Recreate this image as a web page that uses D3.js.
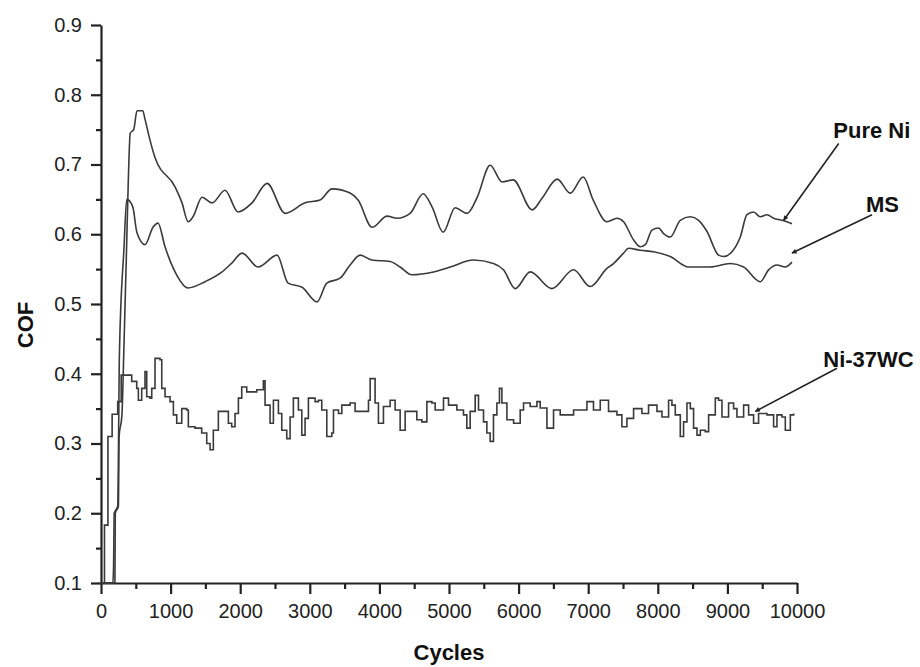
<!DOCTYPE html>
<html>
<head>
<meta charset="utf-8">
<script src="https://cdn.jsdelivr.net/npm/d3@7"></script>
<style>
  body { margin: 0; background: #fff; }
  svg { display: block; font-family: "Liberation Sans", Arial, sans-serif; }
  .axis path, .axis line { stroke: #222; stroke-width: 2.2; }
  .axis text { font-size: 20px; fill: #222; }
  .series { fill: none; stroke: #3a3a3a; stroke-width: 1.6; }
  .lab { font-weight: bold; font-size: 22px; fill: #111; }
</style>
</head>
<body>
<svg id="chart" width="920" height="667"></svg>
<script>
// Pure Ni: cycles and COF
const pureNiCycles = [0, 200, 205, 250, 260, 300, 330, 370, 390, 420, 470, 517, 600, 632, 704, 776, 1064, 1164, 1251, 1322,
  1452, 1596, 1782, 1969, 2170, 2386, 2645, 2932, 3148, 3320, 3579, 3694, 3895, 4111, 4255, 4442, 4628, 4758, 4916, 5088,
  5261, 5405, 5591, 5764, 5922, 6195, 6339, 6555, 6742, 6928, 7072, 7269, 7413, 7508, 7651, 7748, 7820, 7916, 8011, 8083,
  8179, 8323, 8467, 8586, 8707, 8873, 8945, 9066, 9185, 9281, 9376, 9472, 9569, 9664, 9784, 9928];
const pureNiCOF = [0.10, 0.10, 0.20, 0.21, 0.31, 0.34, 0.44, 0.59, 0.668, 0.745, 0.750, 0.777, 0.777, 0.765, 0.735, 0.710, 0.668, 0.645, 0.618, 0.625,
  0.653, 0.645, 0.663, 0.632, 0.645, 0.673, 0.630, 0.645, 0.649, 0.665, 0.659, 0.649, 0.610, 0.626, 0.623, 0.630, 0.658, 0.639, 0.603, 0.638,
  0.630, 0.653, 0.699, 0.675, 0.678, 0.635, 0.652, 0.679, 0.659, 0.682, 0.649, 0.618, 0.623, 0.618, 0.592, 0.582, 0.585, 0.606, 0.609, 0.601,
  0.596, 0.620, 0.625, 0.620, 0.604, 0.570, 0.568, 0.575, 0.596, 0.628, 0.632, 0.625, 0.628, 0.623, 0.620, 0.615];

// MS
const msCycles = [0, 170, 180, 190, 240, 265, 330, 370, 430, 460, 517, 632, 747, 819, 920, 1064, 1251, 1495, 1739, 1883,
  2027, 2257, 2530, 2688, 2889, 3105, 3244, 3435, 3579, 3723, 3891, 4154, 4298, 4466, 4777, 5017, 5351, 5639, 5783, 5951,
  6167, 6478, 6790, 7029, 7269, 7364, 7508, 7580, 7748, 7939, 8179, 8442, 8754, 9042, 9233, 9472, 9592, 9712, 9832, 9928];
const msCOF = [0.10, 0.10, 0.12, 0.20, 0.21, 0.43, 0.58, 0.65, 0.645, 0.638, 0.602, 0.585, 0.610, 0.616, 0.582, 0.546, 0.523, 0.532, 0.546, 0.559,
  0.573, 0.553, 0.570, 0.530, 0.524, 0.503, 0.530, 0.537, 0.556, 0.570, 0.563, 0.561, 0.553, 0.542, 0.546, 0.553, 0.563, 0.558, 0.549, 0.522,
  0.546, 0.522, 0.549, 0.525, 0.551, 0.558, 0.573, 0.580, 0.577, 0.575, 0.568, 0.553, 0.553, 0.558, 0.553, 0.532, 0.549, 0.556, 0.553, 0.560];

// Ni-37WC (stepped trace)
const wcCycles = [0, 50, 100, 160, 240, 290, 441, 513, 537, 585, 632, 657, 704, 729, 776, 848, 873, 920, 992, 1040,
  1088, 1160, 1232, 1255, 1351, 1447, 1519, 1567, 1614, 1686, 1830, 1878, 1926, 1974, 2022, 2094, 2238, 2333, 2357, 2429,
  2477, 2549, 2597, 2669, 2717, 2764, 2836, 2885, 2932, 2980, 3076, 3124, 3172, 3244, 3316, 3340, 3412, 3460, 3579, 3651,
  3843, 3867, 3938, 3986, 4058, 4154, 4226, 4298, 4370, 4538, 4610, 4682, 4754, 4801, 4921, 4993, 5113, 5208, 5256, 5304,
  5376, 5424, 5496, 5544, 5591, 5639, 5688, 5725, 5760, 5832, 5928, 6023, 6071, 6167, 6263, 6310, 6407, 6502, 6598, 6790,
  6982, 7076, 7173, 7292, 7413, 7484, 7556, 7652, 7772, 7867, 7988, 8060, 8155, 8203, 8251, 8323, 8370, 8419, 8467, 8514,
  8563, 8611, 8682, 8730, 8826, 8873, 8922, 9017, 9089, 9137, 9233, 9305, 9376, 9448, 9569, 9664, 9712, 9784, 9832, 9904, 9952];
const wcCOF = [0.10, 0.183, 0.31, 0.342, 0.36, 0.398, 0.389, 0.379, 0.362, 0.379, 0.403, 0.367, 0.365, 0.379, 0.422, 0.420, 0.379, 0.367, 0.360, 0.341,
  0.329, 0.350, 0.348, 0.324, 0.322, 0.315, 0.300, 0.291, 0.319, 0.346, 0.329, 0.324, 0.343, 0.365, 0.381, 0.374, 0.377, 0.390, 0.355, 0.329,
  0.362, 0.343, 0.319, 0.307, 0.338, 0.365, 0.348, 0.312, 0.336, 0.365, 0.360, 0.362, 0.348, 0.310, 0.315, 0.348, 0.343, 0.355, 0.358, 0.346,
  0.362, 0.393, 0.358, 0.329, 0.353, 0.362, 0.348, 0.319, 0.346, 0.334, 0.331, 0.360, 0.358, 0.348, 0.365, 0.355, 0.348, 0.341, 0.322, 0.346,
  0.369, 0.348, 0.331, 0.315, 0.303, 0.341, 0.358, 0.379, 0.358, 0.334, 0.329, 0.348, 0.358, 0.353, 0.360, 0.351, 0.322, 0.348, 0.341, 0.348,
  0.360, 0.348, 0.362, 0.346, 0.341, 0.324, 0.336, 0.350, 0.343, 0.355, 0.346, 0.338, 0.362, 0.355, 0.341, 0.310, 0.331, 0.358, 0.350, 0.322,
  0.312, 0.319, 0.317, 0.341, 0.365, 0.362, 0.338, 0.358, 0.350, 0.338, 0.355, 0.341, 0.329, 0.343, 0.341, 0.324, 0.341, 0.338, 0.319, 0.341, 0.343];

const xTicks = [0, 1000, 2000, 3000, 4000, 5000, 6000, 7000, 8000, 9000, 10000];
const yTicks = [0.1, 0.2, 0.3, 0.4, 0.5, 0.6, 0.7, 0.8, 0.9];

// annotation labels: [text, text anchor (cycles, COF), arrow start, arrow tip]
const notes = [
  ['Pure Ni', [10522, 0.738], [10599, 0.730], [9808, 0.620]],
  ['MS', [10992, 0.632], [11078, 0.628], [9928, 0.573]],
  ['Ni-37WC', [10378, 0.410], [10575, 0.408], [9401, 0.346]],
];

const svg = d3.select('#chart');

const x = d3.scaleLinear().domain([0, 10000]).range([101, 797]);
const y = d3.scaleLinear().domain([0.1, 0.9]).range([583, 25]);

// minor ticks first, then major axis on top
svg.append('g')
  .attr('class', 'axis')
  .attr('transform', 'translate(101,0)')
  .call(d3.axisLeft(y).tickValues(d3.range(0.15, 0.9, 0.1)).tickSize(5).tickFormat(''))
  .select('.domain').remove();

svg.append('g')
  .attr('class', 'axis')
  .attr('transform', 'translate(0,583)')
  .call(d3.axisBottom(x).tickValues(d3.range(500, 10000, 1000)).tickSize(6).tickFormat(''))
  .select('.domain').remove();

svg.append('g')
  .attr('class', 'axis')
  .attr('transform', 'translate(101,0)')
  .call(d3.axisLeft(y).tickValues(yTicks).tickSize(10).tickSizeOuter(0).tickPadding(9).tickFormat(d3.format('.1f')));

svg.append('g')
  .attr('class', 'axis')
  .attr('transform', 'translate(0,583)')
  .call(d3.axisBottom(x).tickValues(xTicks).tickSize(11).tickSizeOuter(0).tickPadding(10).tickFormat(d3.format('d')));

// the curves
const zip = (a, b) => a.map((v, i) => [v, b[i]]);

const smooth = d3.line()
  .x((d) => x(d[0]))
  .y((d) => y(d[1]))
  .curve(d3.curveMonotoneX);

const stepped = d3.line()
  .x((d) => x(d[0]))
  .y((d) => y(d[1]))
  .curve(d3.curveStepAfter);

svg.append('path')
  .datum(zip(pureNiCycles, pureNiCOF))
  .attr('class', 'series')
  .attr('d', smooth);

svg.append('path')
  .datum(zip(msCycles, msCOF))
  .attr('class', 'series')
  .attr('d', smooth);

svg.append('path')
  .datum(zip(wcCycles, wcCOF))
  .attr('class', 'series')
  .attr('d', stepped);

// axis titles
svg.append('text')
  .attr('class', 'lab')
  .attr('text-anchor', 'middle')
  .attr('transform', 'translate(33,325) rotate(-90)')
  .text('COF');

svg.append('text')
  .attr('class', 'lab')
  .attr('text-anchor', 'middle')
  .attr('x', x(5000))
  .attr('y', 660)
  .text('Cycles');

// arrows with labels
svg.append('defs').append('marker')
  .attr('id', 'head')
  .attr('viewBox', '0 0 10 10')
  .attr('refX', 9)
  .attr('refY', 5)
  .attr('markerWidth', 10)
  .attr('markerHeight', 5)
  .attr('markerUnits', 'userSpaceOnUse')
  .attr('orient', 'auto')
  .append('path')
  .attr('d', 'M0,0 L10,5 L0,10 Z')
  .attr('fill', '#222');

notes.forEach((n) => {
  svg.append('line')
    .attr('x1', x(n[2][0]))
    .attr('y1', y(n[2][1]))
    .attr('x2', x(n[3][0]))
    .attr('y2', y(n[3][1]))
    .attr('stroke', '#222')
    .attr('stroke-width', 1.6)
    .attr('marker-end', 'url(#head)');

  svg.append('text')
    .attr('class', 'lab')
    .attr('x', x(n[1][0]))
    .attr('y', y(n[1][1]))
    .text(n[0]);
});
</script>
</body>
</html>
